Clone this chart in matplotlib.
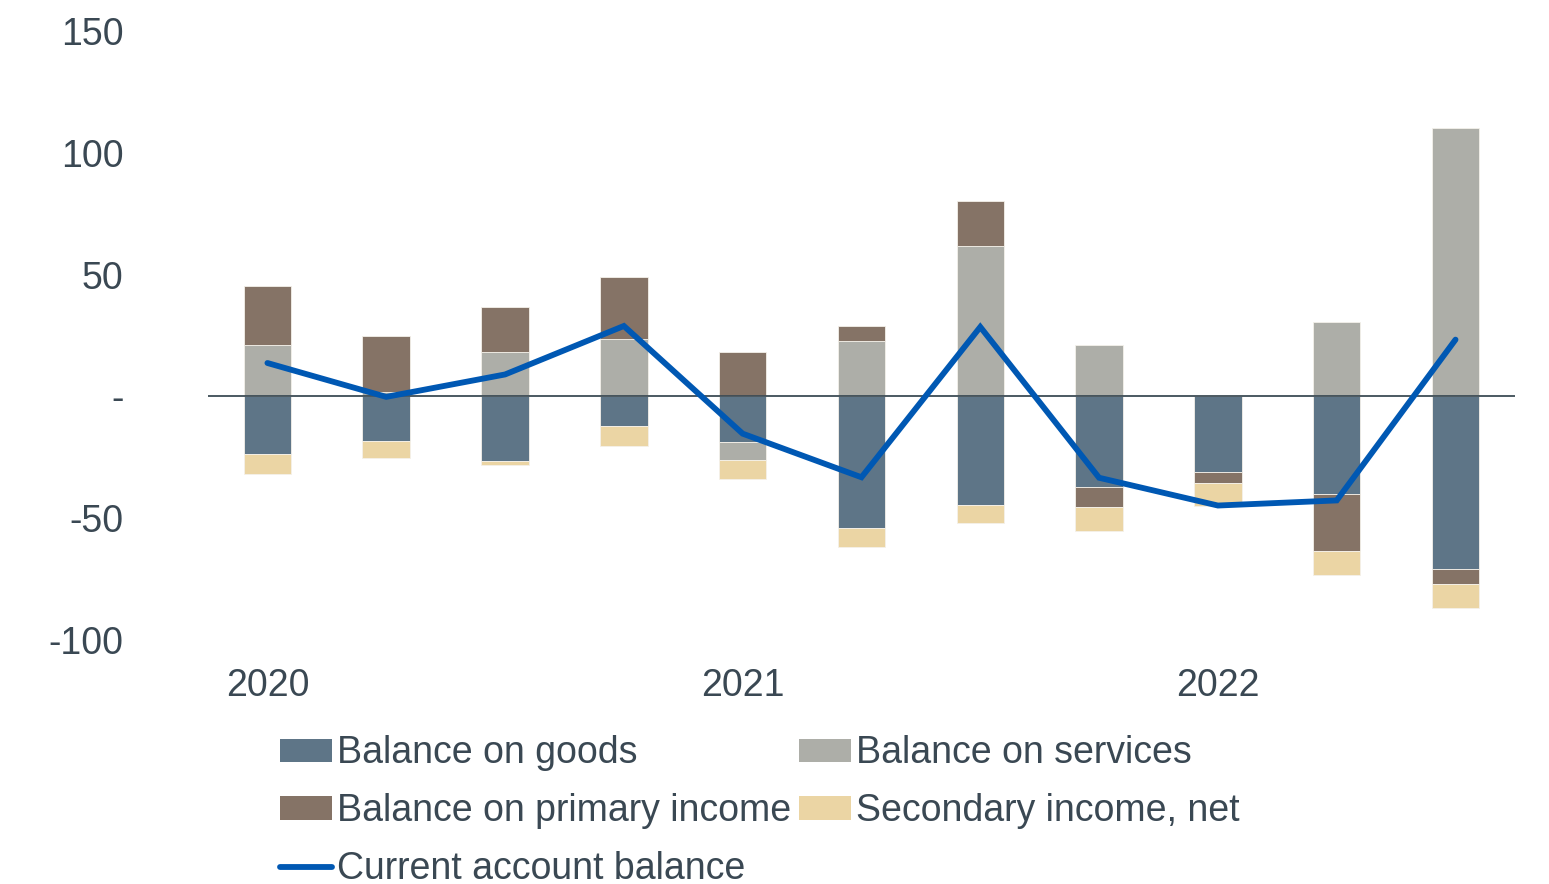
import matplotlib
matplotlib.use("Agg")
import matplotlib.pyplot as plt
import numpy as np
from matplotlib.patches import Patch
from matplotlib.lines import Line2D

# Quarterly current account components, 2020 Q1 - 2022 Q3
quarters = ["2020Q1", "2020Q2", "2020Q3", "2020Q4",
            "2021Q1", "2021Q2", "2021Q3", "2021Q4",
            "2022Q1", "2022Q2", "2022Q3"]
goods = [-23.7, -18.2, -26.4, -12.3, -18.6, -54.2, -44.4, -37.0, -31.1, -40.0, -70.8]
services = [20.9, 2.0, 18.2, 23.7, -7.6, 22.7, 61.6, 21.1, 0.0, 30.4, 110.0]
primary_income = [24.6, 22.7, 18.4, 25.2, 18.4, 6.2, 18.4, -8.2, -4.5, -23.4, -6.3]
secondary_income = [-8.0, -6.9, -1.8, -8.1, -7.8, -7.8, -7.7, -10.1, -9.2, -9.9, -9.9]
current_account = [13.7, -0.2, 9.0, 28.9, -15.3, -33.2, 28.5, -33.4, -44.8, -42.7, 23.3]

year_tick_labels = ["2020", "2021", "2022"]
year_tick_quarters = ["2020Q1", "2021Q1", "2022Q1"]
y_ticks = [-100, -50, 0, 50, 100, 150]
y_tick_labels = ["-100", "-50", "-", "50", "100", "150"]

series = [
    ("Balance on goods", goods, "#5e7587"),
    ("Balance on services", services, "#adaea8"),
    ("Balance on primary income", primary_income, "#857366"),
    ("Secondary income, net", secondary_income, "#ebd5a4"),
]
line_color = "#0058b3"
text_color = "#3a4853"

plt.rcParams["font.family"] = ["Liberation Sans", "DejaVu Sans"]

fig = plt.figure(figsize=(15.49, 8.84), dpi=100)
ax = fig.add_axes([0.1343, 0.276, 0.8437, 0.689])

x = np.arange(len(quarters))
pos_base = np.zeros(len(quarters))
neg_base = np.zeros(len(quarters))
for name, vals, color in series:
    v = np.array(vals, dtype=float)
    bottoms = np.where(v >= 0, pos_base, neg_base)
    ax.bar(x, v, width=0.4, bottom=bottoms, color=color,
           edgecolor="#f4f1ea", linewidth=0.6, zorder=2)
    pos_base = pos_base + np.where(v >= 0, v, 0)
    neg_base = neg_base + np.where(v < 0, v, 0)

ax.axhline(0, color="#3d4c55", linewidth=1.3, zorder=3)
ax.plot(x, current_account, color=line_color, linewidth=4.2,
        solid_capstyle="round", solid_joinstyle="miter", zorder=4)

ax.set_xlim(-0.5, 10.5)
ax.set_ylim(-100, 150)
ax.set_yticks(y_ticks)
ax.set_yticklabels(y_tick_labels)
ax.set_xticks([quarters.index(q) for q in year_tick_quarters])
ax.set_xticklabels(year_tick_labels)
ax.tick_params(axis="y", length=0, pad=61, labelsize=27, labelcolor=text_color)
ax.tick_params(axis="x", length=0, pad=20, labelsize=27, labelcolor=text_color)
for s in ax.spines.values():
    s.set_visible(False)

handles = [
    Patch(facecolor=series[0][2], label=series[0][0]),
    Patch(facecolor=series[2][2], label=series[2][0]),
    Line2D([0], [0], color=line_color, linewidth=4.2, solid_capstyle="round",
           label="Current account balance"),
    Patch(facecolor=series[1][2], label=series[1][0]),
    Patch(facecolor=series[3][2], label=series[3][0]),
]
leg = fig.legend(handles=handles, ncol=2, loc="upper left",
                 bbox_to_anchor=(0.1808, 0.168), frameon=False,
                 fontsize=27, handlelength=1.39, handleheight=0.58,
                 handletextpad=0.13, columnspacing=0.21, labelspacing=0.58,
                 borderaxespad=0, borderpad=0)
for t in leg.get_texts():
    t.set_color(text_color)

fig.savefig("out.png", dpi=100)
